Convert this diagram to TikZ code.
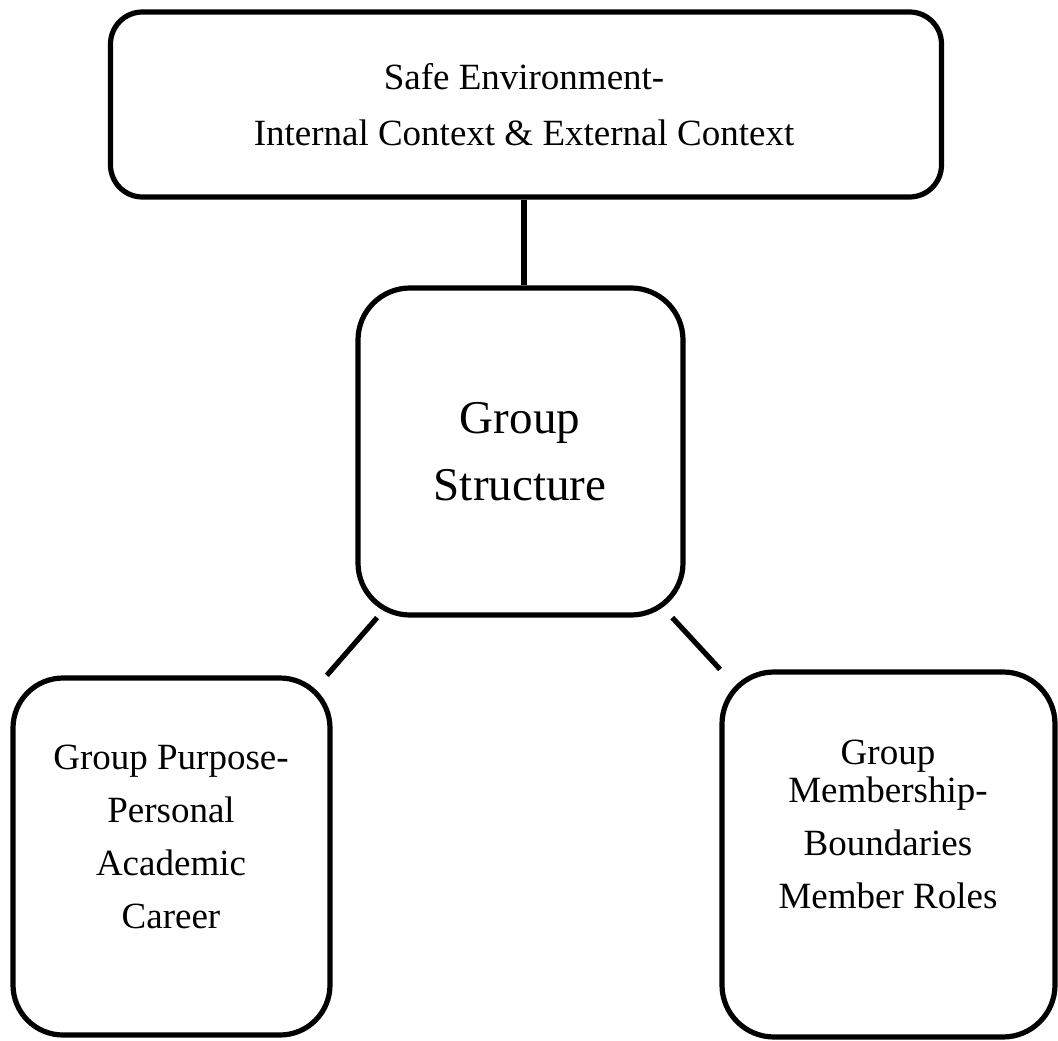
\documentclass[tikz,border=0pt]{standalone}
\usepackage{fontspec}
\setmainfont{Liberation Serif}
\begin{document}
\begin{tikzpicture}[x=1pt,y=-1pt,
  box/.style={draw=black,line width=5.2pt,rectangle,inner sep=0pt,fill=none},
  link/.style={draw=black,line width=5.2pt},
  txt/.style={align=center,anchor=base,inner sep=0pt,text=black},
  bodytext/.style={txt,font=\fontsize{37}{53}\selectfont},
  bigtext/.style={txt,font=\fontsize{47}{67}\selectfont}]
% page frame
\useasboundingbox (0,0) rectangle (1058,1041);

% boxes
\node[box,rounded corners=32pt,minimum width=831pt,minimum height=185pt] (env) at (526,104.5) {};
\node[box,rounded corners=52pt,minimum width=325pt,minimum height=327pt] (gs) at (520.5,451.5) {};
\node[box,rounded corners=50pt,minimum width=317pt,minimum height=357pt] (gp) at (171.5,856.5) {};
\node[box,rounded corners=52pt,minimum width=333pt,minimum height=365pt] (gm) at (888.5,854.5) {};

% labels (anchored at the baseline of the last line)
\node[bodytext] (envtxt) at (524,145) {Safe Environment-\\[3pt]Internal Context \& External Context};
\node[bigtext] (gstxt) at (520,500) {Group\\Structure};
\node[bodytext] (gptxt) at (171,928) {Group Purpose-\\Personal\\Academic\\Career};
\node[bodytext] (gmtxt) at (888,908) {Group\\[-15pt]Membership-\\Boundaries\\Member Roles};

% connectors
\draw[link] ([xshift=3.5pt]gs.north) -- ([xshift=3.5pt]gs.north |- env.south);
\draw[link] (gs) -- (gp);
\draw[link] (gs) -- (gm);
\end{tikzpicture}
\end{document}
